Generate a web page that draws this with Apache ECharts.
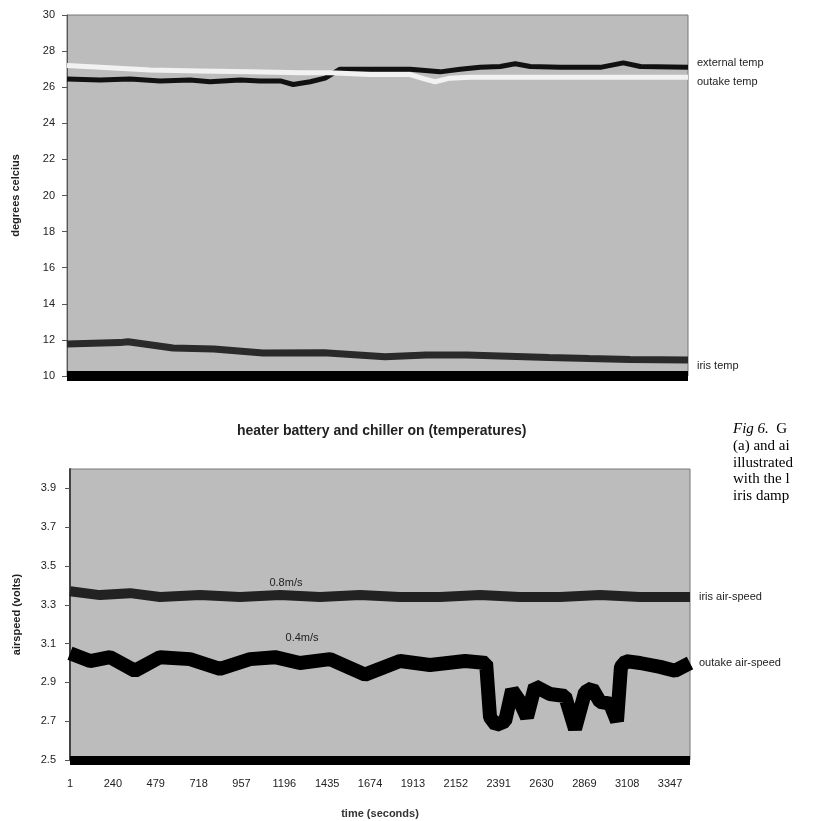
<!DOCTYPE html>
<html>
<head>
<meta charset="utf-8">
<script src="https://cdn.jsdelivr.net/npm/echarts@6/dist/echarts.min.js"></script>
<style>
  html, body { margin: 0; padding: 0; background: #fff; }
  #main { width: 836px; height: 821px; }
</style>
</head>
<body>
<div id="main"></div>
<script>
// values; times in seconds
const extTime = [1, 185, 352, 519, 686, 797, 965, 1076, 1188, 1260, 1355, 1438, 1521, 1689, 1911, 2078, 2190, 2301, 2413, 2496, 2580, 2747, 2970, 3098, 3193, 3458];
const extTemp = [26.45, 26.4, 26.45, 26.35, 26.4, 26.3, 26.4, 26.35, 26.35, 26.15, 26.3, 26.5, 27.0, 27.0, 27.0, 26.85, 27.0, 27.1, 27.15, 27.3, 27.15, 27.1, 27.1, 27.35, 27.15, 27.1];

const outTime = [1, 185, 463, 741, 1020, 1298, 1465, 1689, 1911, 1994, 2050, 2133, 2245, 2523, 2857, 3193, 3458];
const outTemp = [27.2, 27.1, 26.95, 26.9, 26.85, 26.8, 26.8, 26.7, 26.7, 26.45, 26.3, 26.5, 26.55, 26.55, 26.55, 26.55, 26.55];

const irisTime = [1, 296, 341, 591, 819, 1092, 1432, 1771, 2000, 2227, 2456, 2684, 2907, 3135, 3458];
const irisTemp = [11.77, 11.85, 11.9, 11.55, 11.5, 11.27, 11.29, 11.07, 11.16, 11.16, 11.1, 11.03, 10.97, 10.92, 10.89];

const irisAirTime = [1, 168, 336, 503, 726, 949, 1172, 1395, 1618, 1841, 2064, 2287, 2510, 2733, 2956, 3179, 3458];
const irisAir = [3.37, 3.35, 3.36, 3.34, 3.35, 3.34, 3.35, 3.34, 3.35, 3.34, 3.34, 3.35, 3.34, 3.34, 3.35, 3.34, 3.34];

const outAirTime = [1, 113, 224, 363, 503, 670, 837, 1005, 1144, 1283, 1451, 1646, 1841, 2008, 2204, 2321, 2343, 2376, 2427, 2466, 2510, 2549, 2594, 2677, 2761, 2817, 2873, 2912, 2956, 3012, 3051, 3073, 3101, 3179, 3291, 3374, 3458];
const outAir = [3.05, 3.01, 3.03, 2.96, 3.03, 3.02, 2.97, 3.02, 3.03, 3.0, 3.02, 2.94, 3.01, 2.99, 3.01, 3.0, 2.72, 2.68, 2.7, 2.86, 2.8, 2.72, 2.88, 2.84, 2.83, 2.66, 2.85, 2.87, 2.8, 2.79, 2.7, 2.98, 3.01, 3.0, 2.98, 2.96, 3.0];

const tempTicks = { min: 10, max: 30, interval: 2 };
const airTicks = { min: 2.5, max: 4.0, interval: 0.2 };
const timeTicks = { min: 1, max: 3458, interval: 239 };

function pairs(t, v) {
  return t.map((x, i) => [x, v[i]]);
}

const font = '"Liberation Sans", Arial, sans-serif';
const plotBg = '#bcbcbc';

let myChart = echarts.init(document.getElementById('main'));
myChart.setOption({
  animation: false,
  textStyle: { fontFamily: font },
  title: {
    text: 'heater battery and chiller on (temperatures)',
    left: 232,
    top: 419,
    textStyle: { fontSize: 14, fontWeight: 'bold', color: '#222', fontFamily: font }
  },
  grid: [
    { left: 67, top: 15, right: 148, bottom: 445, show: true, backgroundColor: plotBg, borderColor: '#777', borderWidth: 1 },
    { left: 70, top: 469, right: 146, bottom: 61, show: true, backgroundColor: plotBg, borderColor: '#777', borderWidth: 1 }
  ],
  xAxis: [
    {
      gridIndex: 0, type: 'value', min: timeTicks.min, max: timeTicks.max, interval: timeTicks.interval,
      axisLine: { onZero: false, lineStyle: { color: '#000', width: 10, cap: 'butt' } },
      axisTick: { show: false }, axisLabel: { show: false }, splitLine: { show: false }
    },
    {
      gridIndex: 1, type: 'value', min: timeTicks.min, max: timeTicks.max, interval: timeTicks.interval,
      name: 'time (seconds)', nameLocation: 'middle', nameGap: 48,
      nameTextStyle: { fontSize: 11, fontWeight: 'bold', color: '#333' },
      axisLine: { onZero: false, lineStyle: { color: '#000', width: 9, cap: 'butt' } },
      axisTick: { show: false },
      axisLabel: { color: '#222', fontSize: 11, margin: 18, showMaxLabel: false, formatter: v => String(Math.round(v)) },
      splitLine: { show: false }
    }
  ],
  yAxis: [
    {
      gridIndex: 0, type: 'value', min: tempTicks.min, max: tempTicks.max, interval: tempTicks.interval,
      name: 'degrees celcius', nameLocation: 'middle', nameGap: 46, nameRotate: 90,
      nameTextStyle: { fontSize: 11, fontWeight: 'bold', color: '#222' },
      axisLine: { show: true, lineStyle: { color: '#555' } },
      axisTick: { show: true, length: 5, lineStyle: { color: '#555' } },
      axisLabel: { color: '#222', fontSize: 11, margin: 12 },
      splitLine: { show: false }
    },
    {
      gridIndex: 1, type: 'value', min: airTicks.min, max: airTicks.max, interval: airTicks.interval,
      name: 'airspeed (volts)', nameLocation: 'middle', nameGap: 48, nameRotate: 90,
      nameTextStyle: { fontSize: 11, fontWeight: 'bold', color: '#222' },
      axisLine: { show: true, lineStyle: { color: '#444', width: 2 } },
      axisTick: { show: true, length: 5, lineStyle: { color: '#555' } },
      axisLabel: { color: '#222', fontSize: 11, margin: 14, showMaxLabel: false, formatter: v => v.toFixed(1) },
      splitLine: { show: false }
    }
  ],
  series: [
    {
      name: 'external temp', type: 'line', xAxisIndex: 0, yAxisIndex: 0,
      data: pairs(extTime, extTemp), showSymbol: false,
      lineStyle: { color: '#111', width: 5 },
      endLabel: { show: true, formatter: '{a}', color: '#222', fontSize: 11, distance: 9, offset: [0, -4] }
    },
    {
      name: 'outake temp', type: 'line', xAxisIndex: 0, yAxisIndex: 0,
      data: pairs(outTime, outTemp), showSymbol: false,
      lineStyle: { color: '#f2f2f2', width: 5 },
      endLabel: { show: true, formatter: '{a}', color: '#222', fontSize: 11, distance: 9, offset: [0, 5] }
    },
    {
      name: 'iris temp', type: 'line', xAxisIndex: 0, yAxisIndex: 0,
      data: pairs(irisTime, irisTemp), showSymbol: false,
      lineStyle: { color: '#2a2a2a', width: 7 },
      endLabel: { show: true, formatter: '{a}', color: '#222', fontSize: 11, distance: 9, offset: [0, 6] }
    },
    {
      name: 'iris air-speed', type: 'line', xAxisIndex: 1, yAxisIndex: 1,
      data: pairs(irisAirTime, irisAir), showSymbol: false,
      lineStyle: { color: '#222', width: 10 },
      endLabel: { show: true, formatter: '{a}', color: '#222', fontSize: 11, distance: 9 },
      markPoint: {
        symbol: 'circle', symbolSize: 0,
        label: { show: true, formatter: '0.8m/s', color: '#222', fontSize: 11, position: 'inside' },
        data: [{ coord: [1205, 3.414] }]
      }
    },
    {
      name: 'outake air-speed', type: 'line', xAxisIndex: 1, yAxisIndex: 1,
      data: pairs(outAirTime, outAir), showSymbol: false,
      lineStyle: { color: '#000', width: 14 },
      endLabel: { show: true, formatter: '{a}', color: '#222', fontSize: 11, distance: 9 },
      markPoint: {
        symbol: 'circle', symbolSize: 0,
        label: { show: true, formatter: '0.4m/s', color: '#222', fontSize: 11, position: 'inside' },
        data: [{ coord: [1295, 3.13] }]
      }
    }
  ],
  graphic: [
    {
      type: 'text', left: 733, top: 421,
      style: {
        text: '{i|Fig 6.}  G\n(a) and ai\nillustrated\nwith the l\niris damp',
        font: '15px "Liberation Serif", serif', fill: '#000', lineHeight: 16.7,
        rich: { i: { fontStyle: 'italic', fontSize: 15, fontFamily: '"Liberation Serif", serif' } }
      }
    }
  ]
});
</script>
</body>
</html>
